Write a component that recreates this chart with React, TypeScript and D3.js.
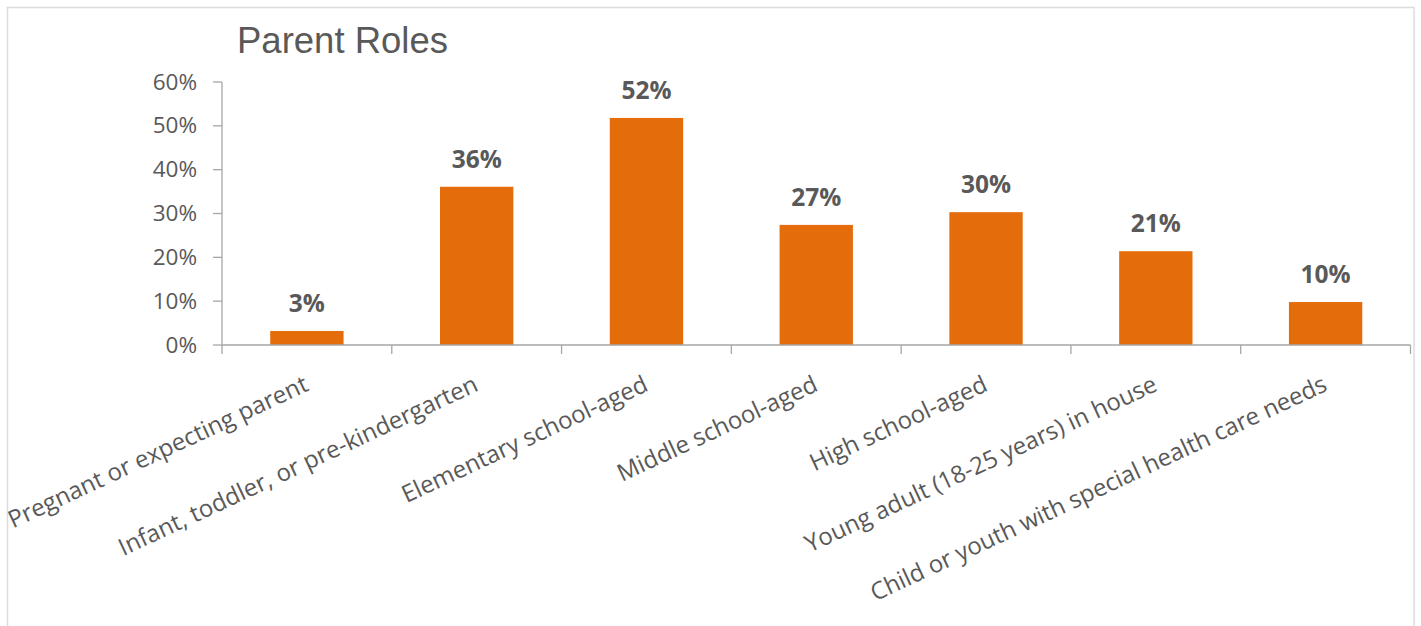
import React from "react";
import * as d3 from "d3";

const categories = [
  "Pregnant or expecting parent",
  "Infant, toddler, or pre-kindergarten",
  "Elementary school-aged",
  "Middle school-aged",
  "High school-aged",
  "Young adult (18-25 years) in house",
  "Child or youth with special health care needs",
];
const values = [0.032, 0.361, 0.518, 0.274, 0.303, 0.214, 0.098];
const valueLabels = ["3%", "36%", "52%", "27%", "30%", "21%", "10%"];
const yTicks = [0, 0.1, 0.2, 0.3, 0.4, 0.5, 0.6];
const title = "Parent Roles";

export default function App() {
  const W = 1421;
  const H = 626;
  const left = 222;
  const right = 1410.5;
  const top = 82;
  const bottom = 345;

  const x = d3.scaleBand<string>().domain(categories).range([left, right]).paddingInner(0.568).paddingOuter(0.284);
  const xb = d3.scaleBand<string>().domain(categories).range([left, right]);
  const y = d3.scaleLinear().domain([0, 0.6]).range([bottom, top]);
  const fmt = d3.format(".0%");
  const grey = "#595959";
  const axisColor = "#A6A6A6";

  return (
    <svg width={W} height={H} style={{ position: "absolute", left: 0, top: 0, background: "#fff" }}>
      <rect x={7.5} y={7.5} width={1406.5} height={640} fill="none" stroke="#DCDCDC" strokeWidth={1.5} />
      <text x={237} y={53} fontFamily="'Liberation Sans', Arial, sans-serif" fontSize={36.5} fill={grey}>
        {title}
      </text>
      {/* y axis */}
      <line x1={left} x2={left} y1={top} y2={bottom} stroke={axisColor} strokeWidth={1.3} />
      {yTicks.map((t) => (
        <g key={t}>
          <line x1={left - 9} x2={left} y1={y(t)} y2={y(t)} stroke={axisColor} strokeWidth={1.3} />
          <text x={197} y={y(t) + 7.5} textAnchor="end" fontFamily="'Open Sans', sans-serif" fontSize={22.5} fill={grey}>
            {fmt(t)}
          </text>
        </g>
      ))}
      {/* bars */}
      {categories.map((c, i) => (
        <g key={c}>
          <rect x={x(c)} y={y(values[i])} width={x.bandwidth()} height={bottom - y(values[i])} fill="#E46C0A" />
          <text
            x={(x(c) as number) + x.bandwidth() / 2}
            y={y(values[i]) - 19}
            textAnchor="middle"
            fontFamily="'Open Sans', sans-serif"
            fontWeight="bold"
            fontSize={24.5}
            fill={grey}
          >
            {valueLabels[i]}
          </text>
        </g>
      ))}
      {/* x axis */}
      <line x1={left} x2={right} y1={bottom} y2={bottom} stroke={axisColor} strokeWidth={1.3} />
      {categories.map((c) => (
        <line key={c + "t"} x1={(xb(c) as number) + xb.bandwidth()} x2={(xb(c) as number) + xb.bandwidth()} y1={bottom} y2={bottom + 9} stroke={axisColor} strokeWidth={1.3} />
      ))}
      <line x1={left} x2={left} y1={bottom} y2={bottom + 9} stroke={axisColor} strokeWidth={1.3} />
      {categories.map((c) => {
        const cx = (xb(c) as number) + xb.bandwidth() / 2 + 3;
        return (
          <text
            key={c + "l"}
            transform={`translate(${cx},390) rotate(-25)`}
            textAnchor="end"
            fontFamily="'Open Sans', sans-serif"
            fontSize={24}
            fill={grey}
          >
            {c}
          </text>
        );
      })}
    </svg>
  );
}
